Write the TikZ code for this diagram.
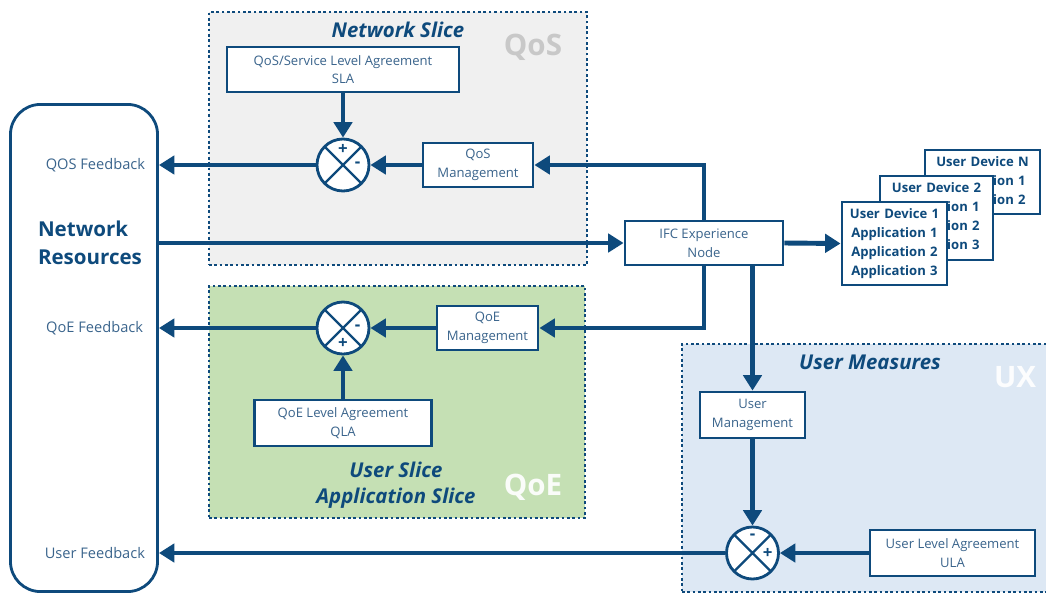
\documentclass[tikz,border=0pt]{standalone}
\usepackage{fontspec}
\setmainfont{Open Sans}
\usetikzlibrary{arrows.meta, positioning}

\definecolor{nrblue}{RGB}{14,74,124}
\definecolor{nrtext}{RGB}{58,100,140}
\definecolor{qosgray}{RGB}{240,240,240}
\definecolor{qoegreen}{RGB}{197,224,180}
\definecolor{uxblue}{RGB}{221,232,244}
\definecolor{qosword}{RGB}{200,200,200}

\begin{document}
\begin{tikzpicture}[
  x=0.025cm, y=-0.025cm,
  >={Triangle[length=11pt, width=13pt]},
  slice/.style={
    draw=nrblue,
    line width=2pt,
    dash pattern=on 1.9pt off 1.9pt,
    inner sep=0
  },
  slice title/.style={
    text=nrblue,
    align=center,
    font=\fontsize{14.5}{18.5}\selectfont\bfseries\itshape
  },
  slice word/.style={
    font=\fontsize{21}{21}\selectfont\bfseries
  },
  ctrl box/.style={
    draw=nrblue,
    line width=2pt,
    fill=white,
    text=nrtext,
    align=center,
    inner sep=2pt,
    font=\fontsize{9.3}{13.3}\selectfont
  },
  device box/.style={
    ctrl box,
    text=nrblue,
    text width=2.4cm,
    font=\fontsize{9.3}{13.5}\selectfont\bfseries
  },
  sum junction/.style={
    circle,
    draw=nrblue,
    line width=2pt,
    fill=white,
    minimum size=1.3cm,
    inner sep=0,
    path picture={
      \draw[nrblue, line width=1.6pt]
        (path picture bounding box.north west) -- (path picture bounding box.south east)
        (path picture bounding box.north east) -- (path picture bounding box.south west);
    }
  },
  sign/.style={
    text=nrblue,
    inner sep=0,
    font=\fontsize{12}{12}\selectfont\bfseries
  },
  fb label/.style={
    anchor=east,
    text=nrtext,
    font=\fontsize{10.4}{12}\selectfont
  },
  flow/.style={
    ->,
    draw=nrblue,
    line width=3.5pt
  }
]
\useasboundingbox (0,0) rectangle (1046,594);

\node[slice, fill=qosgray, minimum width=9.45cm, minimum height=6.325cm] (qos slice) at (398,138.5) {};
\node[slice, fill=qoegreen, minimum width=9.4cm, minimum height=5.8cm] (qoe slice) at (397,402) {};
\node[slice, fill=uxblue, minimum width=9.2cm, minimum height=6.2cm] (ux slice) at (866,468) {};

\node[slice title] (qos title) at (398,30) {Network Slice};
\node[slice word, text=qosword] (qos word) at (533,47) {QoS};
\node[slice title] (qoe title) at (396,485) {User Slice\\Application Slice};
\node[slice word, text=white!92!qoegreen] (qoe word) at (533,487) {QoE};
\node[slice title] (ux title) at (870,362) {User Measures};
\node[slice word, text=white!92!uxblue] (ux word) at (1015,377) {UX};

\node[draw=nrblue, line width=2pt, rounded corners=0.75cm, minimum width=3.675cm, minimum height=12.175cm] (netres) at (84,348) {};
\node[text=nrblue, align=left, font=\fontsize{14.6}{19.5}\selectfont\bfseries] (netres text) at (90,243) {Network\\Resources};

\node[ctrl box, minimum width=5.8cm, minimum height=1.125cm] (sla) at (343,69.5) {QoS/Service Level Agreement\\SLA};
\node[sum junction] (sum1) at (343,165) {};
\node[ctrl box, minimum width=2.75cm, minimum height=1.1cm] (qos mgmt) at (478,165) {QoS\\Management};

\node[ctrl box, minimum width=3.95cm, minimum height=1.1cm] (ifc) at (704,243) {IFC Experience\\Node};

\node[device box, minimum width=2.875cm, minimum height=1.6cm] (devN) at (982.5,182) {User Device N\\Application 1\\Application 2};
\node[device box, minimum width=2.825cm, minimum height=2.1cm] (dev2) at (936.5,218) {User Device 2\\Application 1\\Application 2\\Application 3};
\node[device box, minimum width=2.625cm, minimum height=2.075cm] (dev1) at (894.5,243.5) {User Device 1\\Application 1\\Application 2\\Application 3};

\node[sum junction] (sum2) at (343,328) {};
\node[ctrl box, minimum width=2.525cm, minimum height=1.1cm] (qoe mgmt) at (487.5,328) {QoE\\Management};
\node[ctrl box, minimum width=4.425cm, minimum height=1.15cm] (qla) at (343,423) {QoE Level Agreement\\QLA};

\node[ctrl box, minimum width=2.625cm, minimum height=1.15cm] (user mgmt) at (752.5,415) {User\\Management};
\node[sum junction] (sum3) at (752.5,553) {};
\node[ctrl box, minimum width=4.125cm, minimum height=1.15cm] (ula) at (952.5,553) {User Level Agreement\\ULA};

\node[sign, below=5pt of sum1.north] (sum1 plus) {+};
\node[sign, left=7pt of sum1.east] (sum1 minus) {-};
\node[sign, left=7pt of sum2.east] (sum2 minus) {-};
\node[sign, above=5pt of sum2.south] (sum2 plus) {+};
\node[sign, below=6pt of sum3.north] (sum3 minus) {-};
\node[sign, left=5pt of sum3.east] (sum3 plus) {+};

\node[fb label] (qos fb) at (150,165) {QOS Feedback};
\node[fb label] (qoe fb) at (148,328) {QoE Feedback};
\node[fb label] (user fb) at (150,553) {User Feedback};

\draw[flow] (sla) -- (sum1);
\draw[flow] (qos mgmt) -- (sum1);
\draw[flow] (sum1) -- (sum1 -| netres.east);
\draw[flow] (ifc.north) |- (qos mgmt.east);
\draw[flow] (netres.east |- ifc) -- (ifc.west);
\draw[flow] (ifc.east) -- (dev1.west);
\draw[flow] (ifc.south) |- (qoe mgmt.east);
\draw[flow] (qoe mgmt) -- (sum2);
\draw[flow] (qla) -- (sum2);
\draw[flow] (sum2) -- (sum2 -| netres.east);
\draw[flow] (user mgmt.north |- ifc.south) -- (user mgmt.north);
\draw[flow] (user mgmt) -- (sum3);
\draw[flow] (ula) -- (sum3);
\draw[flow] (sum3) -- (sum3 -| netres.east);

\end{tikzpicture}
\end{document}
